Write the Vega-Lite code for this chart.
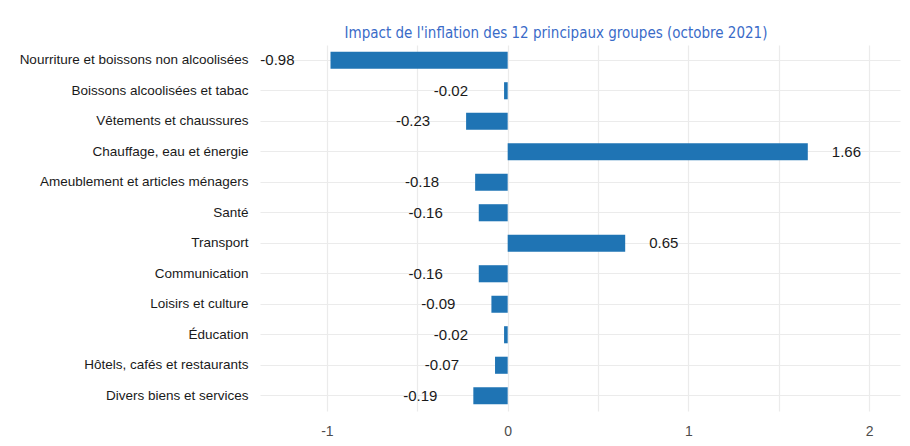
{
  "$schema": "https://vega.github.io/schema/vega-lite/v6.json",
  "autosize": {"type": "none"},
  "padding": {"left": 260, "top": 45, "right": 10, "bottom": 35},
  "width": 640,
  "height": 366,
  "background": "white",
  "title": {
    "text": "Impact de l'inflation des 12 principaux groupes (octobre 2021)",
    "color": "#3a6bc8",
    "font": "DejaVu Sans Condensed, Liberation Sans",
    "fontSize": 15,
    "fontWeight": "normal",
    "anchor": "middle",
    "dx": -24,
    "offset": 4
  },
  "config": {
    "view": {"stroke": null},
    "locale": {"number": {"decimal": ".", "thousands": ",", "grouping": [3], "currency": ["$", ""], "minus": "-"}}
  },
  "data": {
    "values": [
      {"groupe": "Nourriture et boissons non alcoolisées", "value": -0.98},
      {"groupe": "Boissons alcoolisées et tabac", "value": -0.02},
      {"groupe": "Vêtements et chaussures", "value": -0.23},
      {"groupe": "Chauffage, eau et énergie", "value": 1.66},
      {"groupe": "Ameublement et articles ménagers", "value": -0.18},
      {"groupe": "Santé", "value": -0.16},
      {"groupe": "Transport", "value": 0.65},
      {"groupe": "Communication", "value": -0.16},
      {"groupe": "Loisirs et culture", "value": -0.09},
      {"groupe": "Éducation", "value": -0.02},
      {"groupe": "Hôtels, cafés et restaurants", "value": -0.07},
      {"groupe": "Divers biens et services", "value": -0.19}
    ]
  },
  "encoding": {
    "y": {
      "field": "groupe",
      "type": "nominal",
      "sort": null,
      "scale": {"paddingInner": 0.44, "paddingOuter": 0.22},
      "axis": {
        "title": null,
        "ticks": false,
        "domain": false,
        "bandPosition": 0.5,
        "grid": true,
        "gridColor": "#ebebeb",
        "gridWidth": 1.2,
        "labelFont": "Liberation Sans",
        "labelFontSize": 13.5,
        "labelColor": "#1a1a1a",
        "labelPadding": 12,
        "labelLimit": 300
      }
    },
    "x": {
      "field": "value",
      "type": "quantitative",
      "scale": {"domain": [-1.37, 2.17], "nice": false, "zero": false},
      "axis": {
        "title": null,
        "values": [-1, -0.5, 0, 0.5, 1, 1.5, 2],
        "labelExpr": "datum.value % 1 === 0 ? toString(datum.value) : ''",
        "ticks": false,
        "domain": false,
        "grid": true,
        "gridColor": "#ebebeb",
        "gridWidth": 1.2,
        "labelFont": "Liberation Sans",
        "labelFontSize": 14,
        "labelColor": "#4d4d4d",
        "labelPadding": 13
      }
    }
  },
  "layer": [
    {
      "mark": {"type": "bar", "color": "#1f74b4"},
      "encoding": {"x2": {"datum": 0}}
    },
    {
      "transform": [{"filter": "datum.value < 0"}],
      "mark": {"type": "text", "align": "right", "baseline": "middle", "dx": -36, "font": "Liberation Sans", "fontSize": 15, "color": "#1a1a1a"},
      "encoding": {"text": {"field": "value", "type": "quantitative", "format": ".2f"}}
    },
    {
      "transform": [{"filter": "datum.value >= 0"}],
      "mark": {"type": "text", "align": "left", "baseline": "middle", "dx": 24, "font": "Liberation Sans", "fontSize": 15, "color": "#1a1a1a"},
      "encoding": {"text": {"field": "value", "type": "quantitative", "format": ".2f"}}
    }
  ]
}
